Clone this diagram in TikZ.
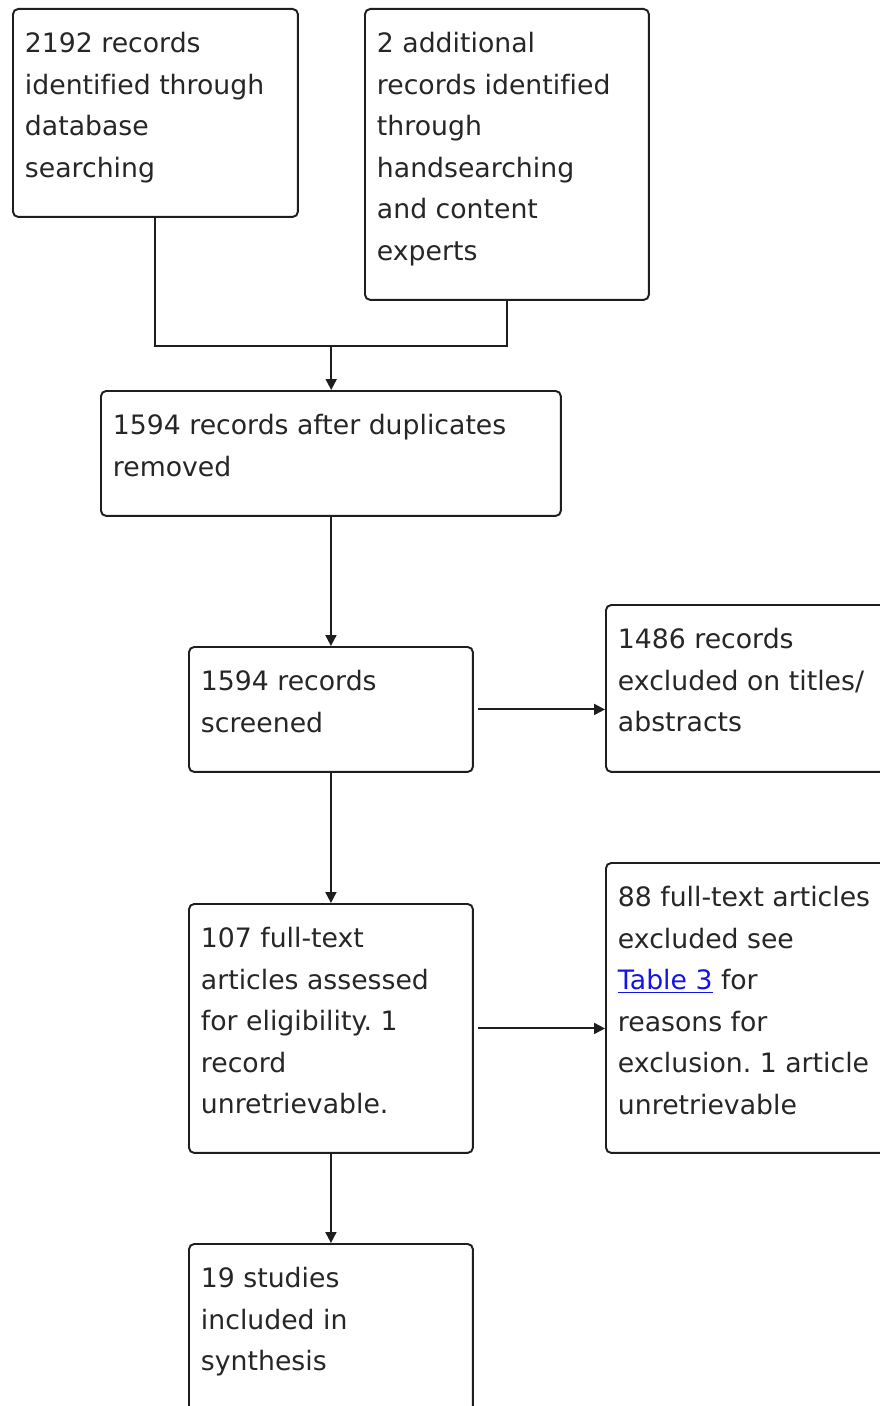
\documentclass[tikz,border=0pt]{standalone}
\usepackage{fontspec}
\setmainfont[Ligatures=NoCommon]{DejaVu Sans}
\usetikzlibrary{arrows.meta,calc}
\definecolor{edge}{RGB}{30,30,30}
\definecolor{linkblue}{RGB}{20,20,230}
\newcommand{\boxtext}[3]{\parbox[t][#2][t]{#1}{\raggedright\frenchspacing\rule{0pt}{0.88cm}#3}}
\tikzset{
  stage/.style ={draw=edge, line width=1.1pt, rounded corners=3pt, anchor=north west, inner xsep=0.24cm, inner ysep=0pt, font=\fontsize{15.2}{23.6}\selectfont, text=black!85},
  arr/.style   ={-{Triangle[length=2.2mm,width=2.2mm]}, draw=edge, line width=1.1pt},
  link/.style  ={draw=edge, line width=1.1pt},
}

\begin{document}
\begin{tikzpicture}[x=0.02cm, y=-0.02cm]
  \useasboundingbox (0,0) rectangle (879,1406);

  % sources
  \node[stage] (dbase) at (12,8)    {\boxtext{5.22cm}{4.16cm}{2192 records\\identified through\\database\\searching}};
  \node[stage] (hand)  at (364,8)   {\boxtext{5.20cm}{5.82cm}{2 additional\\records identified\\through\\handsearching\\and content\\experts}};

  % main flow
  \node[stage] (dedup)  at (100,390)  {\boxtext{8.72cm}{2.50cm}{1594 records after duplicates\\removed}};
  \node[stage] (screen) at (188,646)  {\boxtext{5.20cm}{2.50cm}{1594 records\\screened}};
  \node[stage] (full)   at (188,903)  {\boxtext{5.20cm}{4.98cm}{107 full-text\\articles assessed\\for eligibility. 1\\record\\unretrievable.}};
  \node[stage] (incl)   at (188,1243) {\boxtext{5.20cm}{3.40cm}{19 studies\\included in\\synthesis}};

  % exclusions
  \node[stage] (excl1) at (605,604) {\boxtext{5.22cm}{3.34cm}{1486 records\\excluded on titles/\\abstracts}};
  \node[stage] (excl2) at (605,862) {\boxtext{5.22cm}{5.80cm}{88 full-text articles\\excluded see\\\textcolor{linkblue}{\underline{Table 3}} for\\reasons for\\exclusion. 1 article\\unretrievable}};

  \coordinate (merge) at ($(dbase.south)!0.5!(hand.south)$);
  \coordinate (merge) at (merge |- 0,346);
  \draw[link] (dbase.south) |- (merge) -| (hand.south);
  \draw[arr] (merge) -- (merge |- dedup.north);
  \draw[arr] (dedup.south -| screen.north) -- (screen.north);
  \draw[arr] (screen.south) -- (full.north);
  \draw[arr] (full.south) -- (incl.north);
  \draw[arr, shorten <=0.08cm] (screen.east) -- (screen.east -| excl1.west);
  \draw[arr, shorten <=0.08cm] (full.east) -- (full.east -| excl2.west);
\end{tikzpicture}
\end{document}
